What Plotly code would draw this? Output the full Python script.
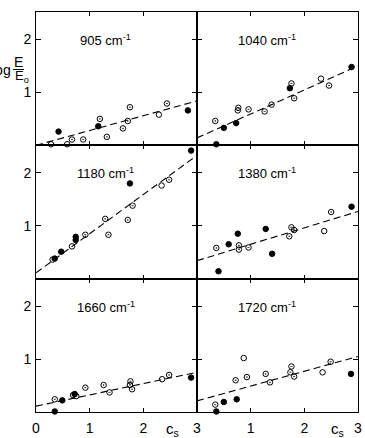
import plotly.graph_objects as go
from plotly.subplots import make_subplots

# ---- data ----
panel_labels = ["905", "1040", "1180", "1380", "1660", "1720"]

x_905 = [0.28, 0.42, 0.58, 0.67, 0.88, 1.16, 1.19, 1.32, 1.62, 1.71, 1.75, 2.29, 2.44, 2.83]
y_905 = [0.02, 0.26, 0.02, 0.11, 0.11, 0.36, 0.50, 0.16, 0.32, 0.46, 0.72, 0.58, 0.79, 0.66]
t_905 = ["o", "f", "o", "d", "d", "f", "d", "d", "d", "d", "d", "o", "d", "f"]

x_1040 = [0.34, 0.36, 0.50, 0.73, 0.76, 0.77, 0.96, 1.26, 1.39, 1.73, 1.76, 1.81, 2.31, 2.46, 2.88]
y_1040 = [0.46, 0.02, 0.33, 0.42, 0.66, 0.71, 0.68, 0.64, 0.77, 1.08, 1.17, 0.89, 1.26, 1.13, 1.48]
t_1040 = ["d", "f", "f", "f", "d", "d", "d", "d", "d", "f", "d", "d", "o", "d", "f"]

x_1180 = [0.31, 0.35, 0.47, 0.67, 0.74, 0.74, 0.92, 1.29, 1.35, 1.71, 1.75, 1.80, 2.34, 2.48, 2.89]
y_1180 = [0.36, 0.38, 0.51, 0.61, 0.79, 0.73, 0.83, 1.13, 0.83, 1.11, 1.80, 1.38, 1.76, 1.87, 2.42]
t_1180 = ["d", "f", "f", "o", "f", "f", "d", "d", "d", "d", "f", "d", "o", "d", "f"]

x_1380 = [0.36, 0.40, 0.59, 0.76, 0.78, 0.78, 0.96, 1.28, 1.40, 1.72, 1.76, 1.81, 2.37, 2.50, 2.88]
y_1380 = [0.58, 0.14, 0.65, 0.85, 0.63, 0.55, 0.59, 0.94, 0.47, 0.80, 0.97, 0.92, 0.90, 1.26, 1.36]
t_1380 = ["d", "f", "f", "f", "d", "d", "d", "f", "f", "d", "d", "d", "o", "d", "f"]

x_1660 = [0.35, 0.35, 0.49, 0.69, 0.72, 0.75, 0.92, 1.26, 1.37, 1.75, 1.76, 1.79, 2.35, 2.48, 2.89]
y_1660 = [0.01, 0.24, 0.22, 0.32, 0.34, 0.30, 0.46, 0.51, 0.37, 0.51, 0.58, 0.43, 0.62, 0.70, 0.65]
t_1660 = ["f", "d", "f", "o", "f", "d", "d", "d", "d", "d", "d", "d", "o", "d", "f"]

x_1720 = [0.34, 0.36, 0.50, 0.72, 0.74, 0.87, 0.93, 1.28, 1.36, 1.74, 1.76, 1.81, 2.34, 2.49, 2.87]
y_1720 = [0.14, 0.01, 0.19, 0.60, 0.24, 1.02, 0.66, 0.72, 0.56, 0.75, 0.86, 0.67, 0.75, 0.95, 0.72]
t_1720 = ["d", "f", "f", "d", "f", "o", "d", "d", "d", "d", "d", "d", "o", "d", "f"]

# dashed regression lines: value at c_s = 0 and at c_s = 3
fit_x = [0, 3]
fit_y0 = [0.00, 0.14, 0.11, 0.34, 0.11, 0.21]
fit_y3 = [0.84, 1.50, 2.33, 1.27, 0.75, 1.05]

panels = [(x_905, y_905, t_905), (x_1040, y_1040, t_1040), (x_1180, y_1180, t_1180),
          (x_1380, y_1380, t_1380), (x_1660, y_1660, t_1660), (x_1720, y_1720, t_1720)]

# ---- figure ----
W, H = 365, 438
ML, MR, MT, MB = 36, 7, 12, 26
PW, PH = W - ML - MR, H - MT - MB

fig = make_subplots(rows=3, cols=2, horizontal_spacing=0, vertical_spacing=0)

sym = {"f": "circle", "o": "circle-open", "d": "circle-open-dot"}
FONT = "Liberation Sans, Arial, sans-serif"

for i, (xs, ys, ts) in enumerate(panels):
    r, c = i // 2 + 1, i % 2 + 1
    fig.add_trace(go.Scatter(x=fit_x, y=[fit_y0[i], fit_y3[i]], mode="lines",
                             line=dict(color="black", width=1.1, dash="7px,4px"),
                             showlegend=False, hoverinfo="skip"), row=r, col=c)
    for k in ["f", "o", "d"]:
        px = [x for x, t in zip(xs, ts) if t == k]
        py = [y for y, t in zip(ys, ts) if t == k]
        fig.add_trace(go.Scatter(x=px, y=py, mode="markers", cliponaxis=False,
                                 marker=dict(symbol=sym[k], size=5.5, color="black",
                                             line=dict(color="black", width=1)),
                                 showlegend=False), row=r, col=c)
    sfx = str(i + 1) if i else ""
    fig.add_annotation(x=1.3, y=1.99, xref="x" + sfx, yref="y" + sfx,
                       xanchor="center", yanchor="middle",
                       text=f"{panel_labels[i]} cm<sup>-1</sup>", showarrow=False,
                       font=dict(size=13, color="black", family=FONT))

for i in range(6):
    r, c = i // 2 + 1, i % 2 + 1
    bottom = (r == 3)
    if bottom and c == 1:
        xt, xl = [0, 1, 2, 3], ["0", "1", "2", "3"]
    elif bottom:
        xt, xl = [1, 2, 3], ["1", "2", "3"]
    else:
        xt, xl = [1, 2], ["1", "2"]
    fig.update_xaxes(range=[0, 3], tickvals=xt, ticktext=xl, showticklabels=bottom,
                     ticks="inside", ticklen=4, tickcolor="black", mirror="ticks",
                     showline=True, linecolor="black", linewidth=1, showgrid=False,
                     zeroline=False, automargin=False,
                     tickfont=dict(size=14, color="black", family=FONT),
                     ticklabelstandoff=3, row=r, col=c)
    fig.update_yaxes(range=[0, 2.52], tickvals=[1, 2], ticktext=["1", "2"],
                     showticklabels=(c == 1),
                     ticks="inside", ticklen=5, tickcolor="black", mirror="ticks",
                     showline=True, linecolor="black", linewidth=1, showgrid=False,
                     zeroline=False, automargin=False,
                     tickfont=dict(size=14, color="black", family=FONT),
                     ticklabelstandoff=1, row=r, col=c)

def px2x(px):
    return (px - ML) / PW

def px2y(py):
    return (H - MB - py) / PH

# c_s axis labels
for cx in [172, 337]:
    fig.add_annotation(x=px2x(cx), y=px2y(429), xref="paper", yref="paper",
                       xanchor="center", yanchor="middle",
                       text="c<sub>s</sub>", showarrow=False,
                       font=dict(size=15, color="black", family=FONT))

# y label: log E/E_o (cut by the left edge as in the reference)
fig.add_annotation(x=px2x(12.5), y=px2y(70), xref="paper", yref="paper",
                   xanchor="right", yanchor="middle",
                   text="log", showarrow=False, font=dict(size=14, color="black", family=FONT))
fig.add_annotation(x=px2x(18.5), y=px2y(62), xref="paper", yref="paper",
                   xanchor="center", yanchor="middle",
                   text="E", showarrow=False, font=dict(size=14, color="black", family=FONT))
fig.add_annotation(x=px2x(13), y=px2y(76.5), xref="paper", yref="paper",
                   xanchor="left", yanchor="middle",
                   text="E<sub>o</sub>", showarrow=False, font=dict(size=13, color="black", family=FONT))
fig.add_shape(type="line", xref="paper", yref="paper", x0=px2x(13), x1=px2x(24),
              y0=px2y(69.5), y1=px2y(69.5), line=dict(color="black", width=1))

fig.update_layout(template="none", width=W, height=H,
                  margin=dict(l=ML, r=MR, t=MT, b=MB, autoexpand=False),
                  paper_bgcolor="white", plot_bgcolor="white",
                  font=dict(family=FONT, color="black"))

fig.write_html("out.html", config={"displayModeBar": False},
               post_script="document.body.style.margin='0px';document.body.style.padding='0px';"
                           "document.body.style.overflow='hidden';")
